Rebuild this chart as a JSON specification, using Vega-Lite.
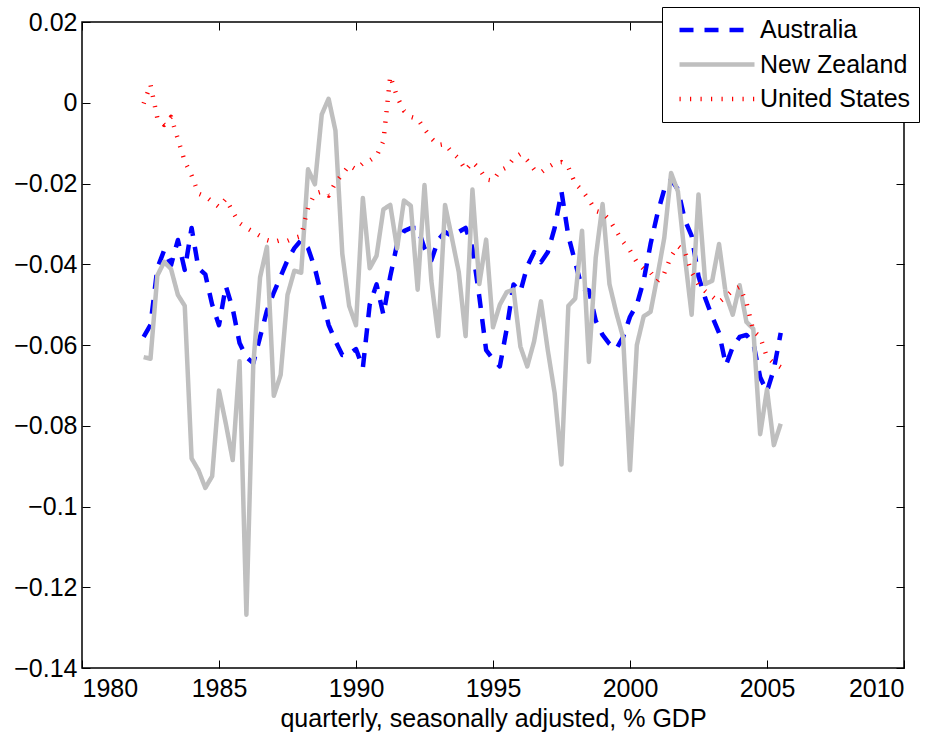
{
  "$schema": "https://vega.github.io/schema/vega-lite/v6.json",
  "width": 822,
  "height": 646,
  "autosize": {"type": "none"},
  "padding": {"left": 82, "top": 22, "right": 32, "bottom": 72},
  "background": "white",
  "config": {
    "view": {"stroke": "black", "strokeWidth": 1.5},
    "font": "Liberation Sans",
    "axis": {
      "domain": false,
      "grid": false,
      "tickColor": "black",
      "tickWidth": 1,
      "tickSize": -8,
      "labelColor": "black",
      "labelFont": "Liberation Sans",
      "labelFontSize": 25,
      "titleFont": "Liberation Sans",
      "titleFontSize": 25,
      "titleFontWeight": "normal",
      "titleColor": "black"
    },
    "legend": {
      "orient": "none",
      "legendX": 580,
      "legendY": -15,
      "padding": 8,
      "fillColor": "white",
      "strokeColor": "black",
      "clipHeight": 30,
      "rowPadding": 4.5,
      "symbolType": "stroke",
      "symbolSize": 5625,
      "symbolStrokeWidth": 4.5,
      "symbolOffset": 7,
      "labelOffset": 3,
      "labelFont": "Liberation Sans",
      "labelFontSize": 25,
      "labelColor": "black",
      "labelLimit": 400
    }
  },
  "data": {
    "values": [
      {"t": 1982.25, "Australia": -0.058, "New Zealand": -0.063, "United States": -0.0002},
      {"t": 1982.5, "Australia": -0.055, "New Zealand": -0.0634, "United States": 0.0045},
      {"t": 1982.75, "Australia": -0.041, "New Zealand": -0.0428, "United States": -0.0038},
      {"t": 1983.0, "Australia": -0.0365, "New Zealand": -0.0394, "United States": -0.0055},
      {"t": 1983.25, "Australia": -0.0402, "New Zealand": -0.0412, "United States": -0.0035},
      {"t": 1983.5, "Australia": -0.034, "New Zealand": -0.0476, "United States": -0.009},
      {"t": 1983.75, "Australia": -0.0414, "New Zealand": -0.0503, "United States": -0.0145},
      {"t": 1984.0, "Australia": -0.031, "New Zealand": -0.0881, "United States": -0.018},
      {"t": 1984.25, "Australia": -0.041, "New Zealand": -0.091, "United States": -0.0225},
      {"t": 1984.5, "Australia": -0.0425, "New Zealand": -0.0954, "United States": -0.0232},
      {"t": 1984.75, "Australia": -0.05, "New Zealand": -0.0925, "United States": -0.0245},
      {"t": 1985.0, "Australia": -0.0551, "New Zealand": -0.0713, "United States": -0.0258},
      {"t": 1985.25, "Australia": -0.0454, "New Zealand": -0.0795, "United States": -0.0238},
      {"t": 1985.5, "Australia": -0.051, "New Zealand": -0.0885, "United States": -0.027},
      {"t": 1985.75, "Australia": -0.0595, "New Zealand": -0.064, "United States": -0.0298},
      {"t": 1986.0, "Australia": -0.063, "New Zealand": -0.1268, "United States": -0.031},
      {"t": 1986.25, "Australia": -0.0645, "New Zealand": -0.065, "United States": -0.032},
      {"t": 1986.5, "Australia": -0.058, "New Zealand": -0.0432, "United States": -0.033},
      {"t": 1986.75, "Australia": -0.0515, "New Zealand": -0.0357, "United States": -0.034},
      {"t": 1987.0, "Australia": -0.047, "New Zealand": -0.0726, "United States": -0.0345},
      {"t": 1987.25, "Australia": -0.043, "New Zealand": -0.0674, "United States": -0.034},
      {"t": 1987.5, "Australia": -0.039, "New Zealand": -0.0476, "United States": -0.0342},
      {"t": 1987.75, "Australia": -0.036, "New Zealand": -0.0416, "United States": -0.0335},
      {"t": 1988.0, "Australia": -0.034, "New Zealand": -0.0421, "United States": -0.033},
      {"t": 1988.25, "Australia": -0.036, "New Zealand": -0.0165, "United States": -0.026},
      {"t": 1988.5, "Australia": -0.041, "New Zealand": -0.0202, "United States": -0.0225},
      {"t": 1988.75, "Australia": -0.048, "New Zealand": -0.0029, "United States": -0.022},
      {"t": 1989.0, "Australia": -0.055, "New Zealand": 0.001, "United States": -0.023},
      {"t": 1989.25, "Australia": -0.059, "New Zealand": -0.0069, "United States": -0.0198},
      {"t": 1989.5, "Australia": -0.0625, "New Zealand": -0.0374, "United States": -0.0177},
      {"t": 1989.75, "Australia": -0.0622, "New Zealand": -0.0503, "United States": -0.0155},
      {"t": 1990.0, "Australia": -0.061, "New Zealand": -0.0551, "United States": -0.0165},
      {"t": 1990.25, "Australia": -0.0657, "New Zealand": -0.0236, "United States": -0.015},
      {"t": 1990.5, "Australia": -0.05, "New Zealand": -0.041, "United States": -0.0143},
      {"t": 1990.75, "Australia": -0.045, "New Zealand": -0.0379, "United States": -0.0132},
      {"t": 1991.0, "Australia": -0.0525, "New Zealand": -0.0264, "United States": -0.0095},
      {"t": 1991.25, "Australia": -0.043, "New Zealand": -0.0253, "United States": 0.0066},
      {"t": 1991.5, "Australia": -0.035, "New Zealand": -0.0361, "United States": 0.0015},
      {"t": 1991.75, "Australia": -0.0318, "New Zealand": -0.0242, "United States": -0.002},
      {"t": 1992.0, "Australia": -0.031, "New Zealand": -0.0255, "United States": -0.0035},
      {"t": 1992.25, "Australia": -0.031, "New Zealand": -0.0463, "United States": -0.004},
      {"t": 1992.5, "Australia": -0.036, "New Zealand": -0.0204, "United States": -0.0065},
      {"t": 1992.75, "Australia": -0.039, "New Zealand": -0.0441, "United States": -0.0088},
      {"t": 1993.0, "Australia": -0.034, "New Zealand": -0.0578, "United States": -0.0105},
      {"t": 1993.25, "Australia": -0.032, "New Zealand": -0.0253, "United States": -0.0102},
      {"t": 1993.5, "Australia": -0.033, "New Zealand": -0.0335, "United States": -0.0123},
      {"t": 1993.75, "Australia": -0.032, "New Zealand": -0.0419, "United States": -0.0138},
      {"t": 1994.0, "Australia": -0.031, "New Zealand": -0.0578, "United States": -0.0167},
      {"t": 1994.25, "Australia": -0.036, "New Zealand": -0.0215, "United States": -0.0147},
      {"t": 1994.5, "Australia": -0.048, "New Zealand": -0.0449, "United States": -0.0163},
      {"t": 1994.75, "Australia": -0.0613, "New Zealand": -0.0339, "United States": -0.019},
      {"t": 1995.0, "Australia": -0.0635, "New Zealand": -0.0556, "United States": -0.0193},
      {"t": 1995.25, "Australia": -0.0653, "New Zealand": -0.05, "United States": -0.0168},
      {"t": 1995.5, "Australia": -0.056, "New Zealand": -0.0469, "United States": -0.016},
      {"t": 1995.75, "Australia": -0.045, "New Zealand": -0.0463, "United States": -0.0138},
      {"t": 1996.0, "Australia": -0.0468, "New Zealand": -0.0604, "United States": -0.0127},
      {"t": 1996.25, "Australia": -0.0405, "New Zealand": -0.0653, "United States": -0.0143},
      {"t": 1996.5, "Australia": -0.037, "New Zealand": -0.0591, "United States": -0.0165},
      {"t": 1996.75, "Australia": -0.0395, "New Zealand": -0.0492, "United States": -0.0173},
      {"t": 1997.0, "Australia": -0.037, "New Zealand": -0.0613, "United States": -0.016},
      {"t": 1997.25, "Australia": -0.031, "New Zealand": -0.0719, "United States": -0.015},
      {"t": 1997.5, "Australia": -0.022, "New Zealand": -0.0896, "United States": -0.0147},
      {"t": 1997.75, "Australia": -0.033, "New Zealand": -0.0503, "United States": -0.016},
      {"t": 1998.0, "Australia": -0.0395, "New Zealand": -0.0485, "United States": -0.02},
      {"t": 1998.25, "Australia": -0.046, "New Zealand": -0.0317, "United States": -0.0217},
      {"t": 1998.5, "Australia": -0.0465, "New Zealand": -0.0642, "United States": -0.024},
      {"t": 1998.75, "Australia": -0.054, "New Zealand": -0.0383, "United States": -0.0268},
      {"t": 1999.0, "Australia": -0.0575, "New Zealand": -0.0251, "United States": -0.0273},
      {"t": 1999.25, "Australia": -0.0597, "New Zealand": -0.0449, "United States": -0.029},
      {"t": 1999.5, "Australia": -0.061, "New Zealand": -0.052, "United States": -0.0318},
      {"t": 1999.75, "Australia": -0.058, "New Zealand": -0.0582, "United States": -0.0345},
      {"t": 2000.0, "Australia": -0.053, "New Zealand": -0.091, "United States": -0.0366},
      {"t": 2000.25, "Australia": -0.05, "New Zealand": -0.06, "United States": -0.0395},
      {"t": 2000.5, "Australia": -0.044, "New Zealand": -0.0529, "United States": -0.0412},
      {"t": 2000.75, "Australia": -0.035, "New Zealand": -0.0518, "United States": -0.042},
      {"t": 2001.0, "Australia": -0.0275, "New Zealand": -0.043, "United States": -0.0442},
      {"t": 2001.25, "Australia": -0.0215, "New Zealand": -0.0335, "United States": -0.0422},
      {"t": 2001.5, "Australia": -0.019, "New Zealand": -0.0174, "United States": -0.038},
      {"t": 2001.75, "Australia": -0.0215, "New Zealand": -0.022, "United States": -0.0355},
      {"t": 2002.0, "Australia": -0.029, "New Zealand": -0.038, "United States": -0.0368},
      {"t": 2002.25, "Australia": -0.033, "New Zealand": -0.0525, "United States": -0.042},
      {"t": 2002.5, "Australia": -0.043, "New Zealand": -0.0227, "United States": -0.045},
      {"t": 2002.75, "Australia": -0.0485, "New Zealand": -0.0449, "United States": -0.0467},
      {"t": 2003.0, "Australia": -0.053, "New Zealand": -0.0441, "United States": -0.048},
      {"t": 2003.25, "Australia": -0.057, "New Zealand": -0.035, "United States": -0.0494},
      {"t": 2003.5, "Australia": -0.065, "New Zealand": -0.0476, "United States": -0.048},
      {"t": 2003.75, "Australia": -0.0605, "New Zealand": -0.0525, "United States": -0.0465},
      {"t": 2004.0, "Australia": -0.058, "New Zealand": -0.0452, "United States": -0.0456},
      {"t": 2004.25, "Australia": -0.0575, "New Zealand": -0.0543, "United States": -0.0495},
      {"t": 2004.5, "Australia": -0.0595, "New Zealand": -0.056, "United States": -0.0565},
      {"t": 2004.75, "Australia": -0.068, "New Zealand": -0.0821, "United States": -0.058},
      {"t": 2005.0, "Australia": -0.0715, "New Zealand": -0.071, "United States": -0.063},
      {"t": 2005.25, "Australia": -0.066, "New Zealand": -0.0848, "United States": -0.0645},
      {"t": 2005.5, "Australia": -0.057, "New Zealand": -0.0795, "United States": -0.0655}
    ]
  },
  "layer": [
    {
      "transform": [
        {"fold": ["Australia", "New Zealand", "United States"], "as": ["country", "value"]}
      ],
      "mark": {"type": "line", "strokeWidth": 4.5, "strokeCap": "butt", "strokeJoin": "round", "clip": true},
      "encoding": {
        "x": {
          "field": "t", "type": "quantitative",
          "scale": {"domain": [1980, 2010], "nice": false, "zero": false},
          "axis": {"orient": "bottom", "values": [1980, 1985, 1990, 1995, 2000, 2005, 2010], "format": "d", "labelPadding": 16, "title": "quarterly, seasonally adjusted, % GDP", "titlePadding": 5}
        },
        "y": {
          "field": "value", "type": "quantitative",
          "scale": {"domain": [-0.14, 0.02], "nice": false, "zero": false},
          "axis": {"orient": "left", "values": [-0.14, -0.12, -0.1, -0.08, -0.06, -0.04, -0.02, 0, 0.02], "format": ".2~f", "labelPadding": 13, "title": null}
        },
        "color": {
          "field": "country", "type": "nominal",
          "scale": {"domain": ["Australia", "New Zealand", "United States"], "range": ["#0000ff", "#bfbfbf", "#ff0000"]},
          "legend": {"title": null}
        },
        "strokeDash": {
          "field": "country", "type": "nominal",
          "scale": {"domain": ["Australia", "New Zealand", "United States"], "range": [[14, 11], [1, 0], [1.2, 9.3]]},
          "legend": {"title": null}
        }
      }
    },
    {
      "data": {"values": [{"t": 1980, "value": 0}]},
      "mark": {"type": "point", "opacity": 0},
      "encoding": {
        "x": {"field": "t", "type": "quantitative", "axis": {"orient": "top", "values": [1980, 1985, 1990, 1995, 2000, 2005, 2010], "labels": false, "title": null}},
        "y": {"field": "value", "type": "quantitative", "axis": {"orient": "right", "values": [-0.14, -0.12, -0.1, -0.08, -0.06, -0.04, -0.02, 0, 0.02], "labels": false, "title": null}}
      }
    }
  ],
  "resolve": {"axis": {"x": "independent", "y": "independent"}}
}
